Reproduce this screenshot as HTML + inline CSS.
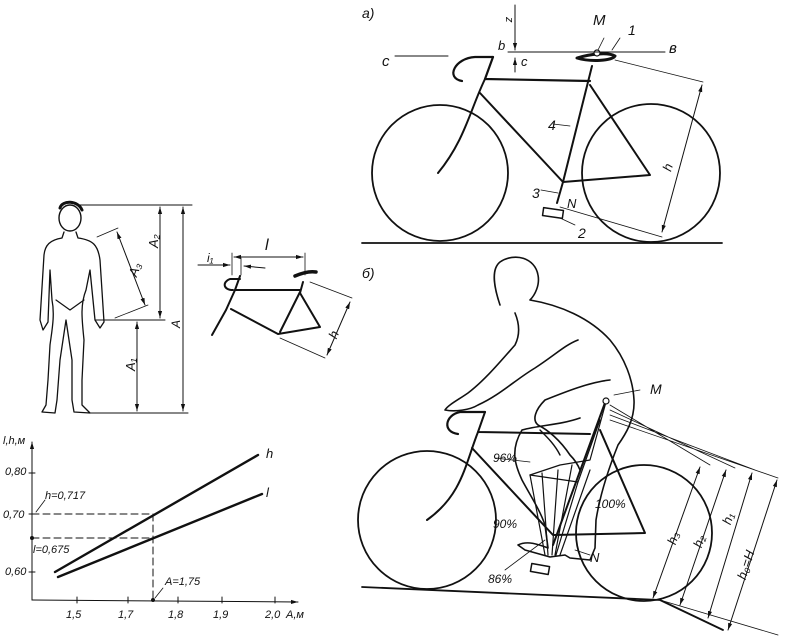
<!DOCTYPE html>
<html><head><meta charset="utf-8"><style>
html,body{margin:0;padding:0;background:#fff}
svg{display:block}
text{font-family:"Liberation Sans",sans-serif;font-style:italic;fill:#111}
</style></head><body>
<svg width="786" height="639" viewBox="0 0 786 639" xmlns="http://www.w3.org/2000/svg">
<defs>
<marker id="a" viewBox="0 0 10 10" refX="10" refY="5" markerWidth="7" markerHeight="7" orient="auto-start-reverse"><path d="M0,2 L10,5 L0,8 z" fill="#111"/></marker>
</defs>
<g fill="none" stroke="#111" stroke-linecap="round" stroke-linejoin="round">

<!-- ===== Top bike (a) ===== -->
<circle cx="440" cy="173" r="68" stroke-width="1.8"/>
<circle cx="651" cy="173" r="69" stroke-width="1.8"/>
<line x1="362" y1="243" x2="722" y2="243" stroke-width="1.8"/>
<path d="M493,57 L485,79 L590,81" stroke-width="2.2"/>
<path d="M493,57 L475,57 C455,58 445,78 462,81" stroke-width="2.2"/>
<path d="M485,79 C470,110 465,140 438,173" stroke-width="2"/>
<path d="M480,93 L563,182 L650,175 L590,85" stroke-width="2"/>
<path d="M592,66 L563,182 L557,203" stroke-width="2"/>
<path d="M577,58 C590,54 608,52 615,56 C612,61 590,62 577,58z" stroke-width="3"/>
<circle cx="597" cy="53" r="3" stroke-width="1.2" fill="#fff"/>
<rect x="543" y="209" width="20" height="8" stroke-width="1.5" transform="rotate(8 553 213)"/>
<line x1="395" y1="56" x2="448" y2="56" stroke-width="1"/>
<line x1="508" y1="52" x2="665" y2="52" stroke-width="1"/>
<line x1="515" y1="5" x2="515" y2="50" stroke-width="1" marker-end="url(#a)"/>
<line x1="515" y1="72" x2="515" y2="58" stroke-width="1" marker-end="url(#a)"/>
<line x1="615" y1="60" x2="703" y2="82" stroke-width="0.8"/>
<line x1="560" y1="207" x2="662" y2="237" stroke-width="0.8"/>
<line x1="702" y1="85" x2="662" y2="232" stroke-width="1" marker-start="url(#a)" marker-end="url(#a)"/>
<line x1="598" y1="50" x2="604" y2="38" stroke-width="0.8"/>
<line x1="612" y1="50" x2="620" y2="38" stroke-width="0.8"/>
<line x1="553" y1="124" x2="570" y2="126" stroke-width="0.8"/>
<line x1="541" y1="190" x2="558" y2="193" stroke-width="0.8"/>
<line x1="560" y1="218" x2="575" y2="225" stroke-width="0.8"/>

<!-- ===== Bottom bike (б) ===== -->
<circle cx="427" cy="520" r="69" stroke-width="1.8"/>
<circle cx="644" cy="533" r="68" stroke-width="1.8"/>
<path d="M362,587 L660,600 L723,630" stroke-width="1.8"/>
<path d="M485,412 L478,432 L590,434" stroke-width="2"/>
<path d="M485,412 L460,412 C445,415 442,432 458,434" stroke-width="2.2"/>
<path d="M478,432 C465,465 462,495 427,520" stroke-width="2"/>
<path d="M472,448 L553,535 L645,533 L600,430" stroke-width="2"/>
<path d="M606,400 L553,545" stroke-width="2"/>
<rect x="531" y="565" width="18" height="8" stroke-width="1.5" transform="rotate(10 540 569)"/>
<!-- rider -->
<path d="M500,305 C495,290 490,270 500,262 C515,252 535,258 538,275 C540,285 535,295 530,300 C560,305 590,318 610,340 C625,358 633,380 634,400 C635,420 625,435 618,445 C608,470 600,495 596,520 L595,548 L590,560 L570,558 L565,555 L550,557 L525,550 L518,545 C528,540 540,545 548,548 L545,525 C540,510 530,495 522,480 C515,465 510,450 522,430 C540,425 560,425 580,418" stroke-width="1.6"/>
<path d="M515,313 C520,325 520,335 515,345 C500,362 485,380 468,393 C458,400 448,405 445,410 C455,412 470,410 478,405 C500,395 515,380 535,368 C555,355 565,345 578,340" stroke-width="1.6"/>
<path d="M610,380 C590,382 565,392 545,400 C535,410 532,420 538,425 C548,430 560,440 570,455 C575,460 578,465 580,470" stroke-width="1.6"/>
<path d="M540,430 C548,438 555,445 560,455" stroke-width="1.4"/>
<!-- leg linkage -->
<path d="M530,475 L560,465 L590,460 L606,402" stroke-width="1.2"/>
<path d="M530,475 L545,555 M542,473 L548,555 M558,470 L552,555 M572,465 L555,555 M578,482 L556,555 M590,470 L560,555" stroke-width="1.2"/>
<path d="M530,475 L578,482 M600,420 L578,482" stroke-width="1.2"/>
<circle cx="606" cy="401" r="3" stroke-width="1.2" fill="#fff"/>
<!-- dims -->
<path d="M610,405 L710,465 M610,410 L735,468 M610,415 L755,470 M610,420 L778,478" stroke-width="0.8"/>
<path d="M660,600 L778,635" stroke-width="0.8"/>
<line x1="700" y1="467" x2="653" y2="598" stroke-width="1" marker-start="url(#a)" marker-end="url(#a)"/>
<line x1="726" y1="470" x2="680" y2="605" stroke-width="1" marker-start="url(#a)" marker-end="url(#a)"/>
<line x1="752" y1="473" x2="708" y2="618" stroke-width="1" marker-start="url(#a)" marker-end="url(#a)"/>
<line x1="777" y1="480" x2="728" y2="630" stroke-width="1" marker-start="url(#a)" marker-end="url(#a)"/>
<line x1="495" y1="458" x2="530" y2="462" stroke-width="0.8"/>
<line x1="614" y1="395" x2="640" y2="390" stroke-width="0.8"/>
<line x1="505" y1="570" x2="545" y2="540" stroke-width="0.8"/>
<line x1="575" y1="550" x2="590" y2="555" stroke-width="0.8"/>

<!-- ===== Standing man ===== -->
<ellipse cx="70" cy="218" rx="11" ry="13" stroke-width="1.4"/>
<path d="M60,208 C62,200 78,200 82,210" stroke-width="3"/>
<path d="M64,232 L62,238 C50,240 45,245 44,255 L40,320 L43,330 L48,322 L50,270 L52,300 C55,315 52,330 50,345 L48,380 L46,405 L42,412 L55,413 L57,400 L60,360 L66,320 L72,360 L72,400 L74,412 L90,413 L82,405 L82,380 L84,340 C82,320 80,305 86,290 L90,270 L95,320 L100,328 L104,322 L100,260 C98,245 93,240 78,238 L76,232" stroke-width="1.3"/>
<path d="M56,300 L70,310 L84,300" stroke-width="1.2"/>
<line x1="80" y1="205" x2="192" y2="205" stroke-width="1"/>
<line x1="90" y1="413" x2="188" y2="413" stroke-width="1"/>
<line x1="95" y1="320" x2="165" y2="320" stroke-width="1"/>
<line x1="183" y1="207" x2="183" y2="411" stroke-width="1" marker-start="url(#a)" marker-end="url(#a)"/>
<line x1="160" y1="207" x2="160" y2="318" stroke-width="1" marker-start="url(#a)" marker-end="url(#a)"/>
<line x1="137" y1="322" x2="137" y2="411" stroke-width="1" marker-start="url(#a)" marker-end="url(#a)"/>
<line x1="97" y1="237" x2="118" y2="228" stroke-width="0.8"/>
<line x1="115" y1="318" x2="148" y2="305" stroke-width="0.8"/>
<line x1="117" y1="232" x2="145" y2="305" stroke-width="1" marker-start="url(#a)" marker-end="url(#a)"/>

<!-- ===== Small frame ===== -->
<path d="M240,276 L235,290 L300,290" stroke-width="2"/>
<path d="M240,279 L230,279 C222,282 223,290 233,290" stroke-width="2"/>
<path d="M235,290 L226,310 L212,335" stroke-width="2"/>
<path d="M231,309 L278,334 L320,327 L300,293 L303,282" stroke-width="2"/>
<path d="M300,292 L280,332" stroke-width="2"/>
<path d="M295,276 C302,273 310,271 316,272" stroke-width="3.5"/>
<line x1="232" y1="253" x2="232" y2="275" stroke-width="0.8"/>
<line x1="305" y1="253" x2="305" y2="275" stroke-width="0.8"/>
<line x1="241" y1="258" x2="241" y2="275" stroke-width="0.8"/>
<line x1="234" y1="257" x2="303" y2="257" stroke-width="1" marker-start="url(#a)" marker-end="url(#a)"/>
<line x1="198" y1="265" x2="230" y2="265" stroke-width="1" marker-end="url(#a)"/>
<line x1="265" y1="268" x2="244" y2="266" stroke-width="1" marker-end="url(#a)"/>
<line x1="310" y1="282" x2="352" y2="298" stroke-width="0.8"/>
<line x1="280" y1="338" x2="325" y2="358" stroke-width="0.8"/>
<line x1="350" y1="302" x2="327" y2="355" stroke-width="1" marker-start="url(#a)" marker-end="url(#a)"/>

<!-- ===== Graph ===== -->
<line x1="32" y1="600" x2="32" y2="442" stroke-width="1" marker-end="url(#a)"/>
<line x1="32" y1="600" x2="298" y2="602" stroke-width="1" marker-end="url(#a)"/>
<path d="M77,597 V603 M128,597 V603 M178,597 V603 M222,597 V603 M275,597 V603 M29,473 H35 M29,514 H35 M29,572 H35" stroke-width="1"/>
<line x1="55" y1="572" x2="258" y2="455" stroke-width="2.4"/>
<line x1="58" y1="577" x2="262" y2="494" stroke-width="2.4"/>
<path d="M32,514 H153 M32,538 H153 M153,514 V600" stroke-width="1" stroke-dasharray="7,4"/>
<circle cx="32" cy="538" r="2" fill="#111" stroke="none"/>
<circle cx="153" cy="600" r="2" fill="#111" stroke="none"/>
<line x1="36" y1="512" x2="45" y2="500" stroke-width="0.8"/>
<line x1="155" y1="598" x2="163" y2="588" stroke-width="0.8"/>
</g>

<!-- ===== Text ===== -->
<g font-size="14">
<text x="362" y="18">а)</text>
<text x="362" y="278">б)</text>
<text x="507" y="24" font-size="11" transform="rotate(90 510 20)">z</text>
<text x="498" y="50" font-size="13">b</text>
<text x="521" y="66" font-size="13">c</text>
<text x="382" y="66" font-size="15">c</text>
<text x="669" y="53" font-size="15">в</text>
<text x="593" y="25" font-size="15">M</text>
<text x="628" y="35" font-size="14">1</text>
<text x="548" y="130" font-size="14">4</text>
<text x="532" y="198" font-size="14">3</text>
<text x="567" y="208" font-size="13">N</text>
<text x="578" y="238" font-size="14">2</text>
<text x="665" y="172" font-size="13" transform="rotate(-72 668 168)">h</text>
<text x="650" y="394" font-size="14">M</text>
<text x="590" y="562" font-size="13">N</text>
<text x="493" y="462" font-size="12">96%</text>
<text x="493" y="528" font-size="12">90%</text>
<text x="595" y="508" font-size="12">100%</text>
<text x="488" y="583" font-size="12">86%</text>
<text x="668" y="545" font-size="13" transform="rotate(-72 672 540)">h₃</text>
<text x="694" y="548" font-size="13" transform="rotate(-72 698 543)">h₂</text>
<text x="723" y="525" font-size="13" transform="rotate(-72 727 520)">h₁</text>
<text x="738" y="580" font-size="13" transform="rotate(-72 742 575)">h₀=H</text>
<text x="265" y="250" font-size="16">l</text>
<text x="207" y="262" font-size="12">i₁</text>
<text x="330" y="340" font-size="13" transform="rotate(-68 333 335)">h</text>
<text x="150" y="250" font-size="13" transform="rotate(-90 153 245)">A₂</text>
<text x="130" y="278" font-size="13" transform="rotate(-70 133 273)">A₃</text>
<text x="174" y="330" font-size="12" transform="rotate(-90 176 326)">A</text>
<text x="128" y="372" font-size="13" transform="rotate(-90 131 368)">A₁</text>
<text x="3" y="444" font-size="11">l,h,м</text>
<text x="5" y="475" font-size="11">0,80</text>
<text x="3" y="518" font-size="11">0,70</text>
<text x="5" y="575" font-size="11">0,60</text>
<text x="45" y="499" font-size="11">h=0,717</text>
<text x="33" y="553" font-size="11">l=0,675</text>
<text x="165" y="585" font-size="11">A=1,75</text>
<text x="266" y="458" font-size="13">h</text>
<text x="266" y="497" font-size="13">l</text>
<text x="66" y="618" font-size="11">1,5</text>
<text x="118" y="618" font-size="11">1,7</text>
<text x="168" y="618" font-size="11">1,8</text>
<text x="213" y="618" font-size="11">1,9</text>
<text x="265" y="618" font-size="11">2,0</text>
<text x="286" y="618" font-size="11">A,м</text>
</g>
</svg>
</body></html>
